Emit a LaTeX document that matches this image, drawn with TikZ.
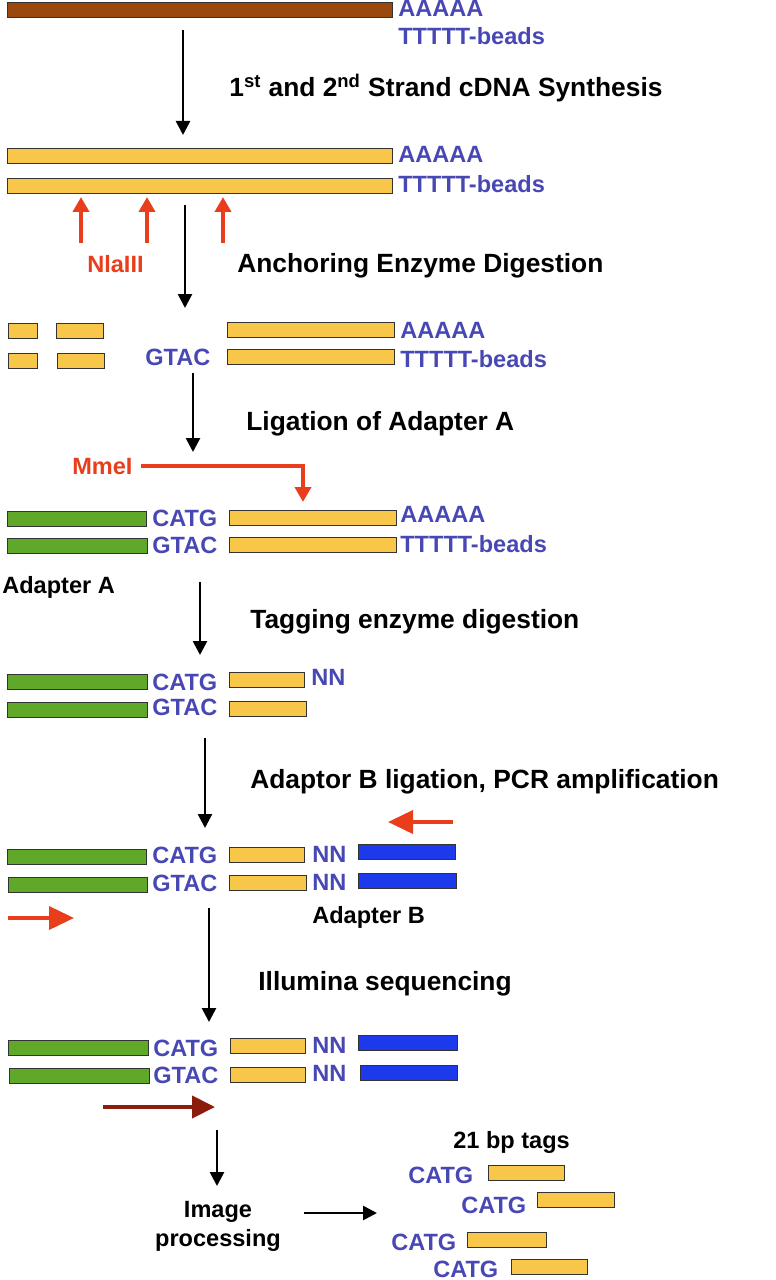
\documentclass[tikz,border=0pt]{standalone}
\usepackage{fontspec}
\setmainfont{Liberation Sans}
\usepackage{tikz}
\usetikzlibrary{arrows.meta,positioning,calc}
\definecolor{lblue}{RGB}{72,72,180}
\definecolor{enzred}{RGB}{232,62,28}
\definecolor{brownbar}{RGB}{155,72,14}
\definecolor{ybar}{RGB}{248,198,72}
\definecolor{gbar}{RGB}{96,168,42}
\definecolor{bbar}{RGB}{28,58,236}
\definecolor{darkred}{RGB}{140,28,12}

\begin{document}
\begin{tikzpicture}[x=0.02cm,y=-0.02cm,
  bar/.style={draw=black!80,line width=0.8pt,inner sep=0,anchor=north west,
              minimum height=0.3cm,minimum width=#1*0.02cm},
  head/.style={font=\fontsize{15}{18}\selectfont\bfseries,inner sep=0,anchor=base west},
  lbl/.style={font=\fontsize{13.4}{16.5}\selectfont\bfseries,text=lblue,inner sep=0,anchor=base west},
  note/.style={font=\fontsize{13.4}{16.5}\selectfont\bfseries,inner sep=0,anchor=base west},
  flow/.style={-{Triangle[length=0.28cm,width=0.28cm]},line width=1.5pt},
  cut/.style={-{Triangle[length=0.3cm,width=0.32cm]},enzred,line width=2.2pt},
  primer/.style={-{Triangle[length=0.5cm,width=0.46cm]},enzred,line width=2.2pt},
  readarr/.style={-{Triangle[length=0.46cm,width=0.44cm]},darkred,line width=2.4pt}]
\useasboundingbox (0,0) rectangle (775,1280);

% mRNA
\node[bar=385,fill=brownbar] (m1) at (7,2) {};
\node[lbl] (m1a) at (398,17) {AAAAA};
\node[lbl] (m1t) at (398,45) {TTTTT-beads};
\node[head] (h1) at (229,97) {1\textsuperscript{st} and 2\textsuperscript{nd} Strand cDNA Synthesis};

% cDNA
\node[bar=385,fill=ybar] (c1) at (7,148) {};
\node[bar=385,fill=ybar] (c2) at (7,178) {};
\node[lbl] (c1a) at (398,163) {AAAAA};
\node[lbl] (c2t) at (398,193) {TTTTT-beads};
\foreach \i/\x in {1/81,2/147,3/223}{
  \coordinate (n\i a) at (\x,243); \coordinate (n\i b) at (\x,197);
  \draw[cut] (n\i a) -- (n\i b);}
\node[note,text=enzred] (nla) at (87,273) {NlaIII};
\node[head] (h2) at (237,273) {Anchoring Enzyme Digestion};

% digested
\node[bar=29,fill=ybar] (d1) at (8,323) {};
\node[bar=47,fill=ybar] (d2) at (56,323) {};
\node[bar=29,fill=ybar] (d3) at (8,353) {};
\node[bar=47,fill=ybar] (d4) at (57,353) {};
\node[bar=167,fill=ybar] (d5) at (227,322) {};
\node[bar=167,fill=ybar] (d6) at (227,349) {};
\node[lbl] (d0g) at (145,365) {GTAC};
\node[lbl] (d5a) at (400,338) {AAAAA};
\node[lbl] (d6t) at (400,367) {TTTTT-beads};
\node[head] (h3) at (246,430) {Ligation of Adapter A};

% adapter A
\node[note,text=enzred] (mme) at (72,474) {MmeI};
\coordinate (mcut) at (303,502);
\draw[cut] ([xshift=0.16cm]mme.east) -| (mcut);
\node[bar=139,fill=gbar] (a1) at (7,511) {};
\node[bar=140,fill=gbar] (a2) at (7,538) {};
\node[lbl] (a1c) at (152,526) {CATG};
\node[lbl] (a2g) at (152,553) {GTAC};
\node[bar=167,fill=ybar] (a3) at (229,510) {};
\node[bar=167,fill=ybar] (a4) at (229,537) {};
\node[lbl] (a3a) at (400,522) {AAAAA};
\node[lbl] (a4t) at (400,552) {TTTTT-beads};
\node[note] (ada) at (2,593) {Adapter A};
\node[head] (h4) at (250,628) {Tagging enzyme digestion};

% tagged
\node[bar=140,fill=gbar] (t1) at (7,674) {};
\node[bar=140,fill=gbar] (t2) at (7,702) {};
\node[lbl] (t1c) at (152,690) {CATG};
\node[lbl] (t2g) at (152,715) {GTAC};
\node[bar=75,fill=ybar] (t3) at (229,672) {};
\node[bar=77,fill=ybar] (t4) at (229,701) {};
\node[lbl] (t3n) at (311,685) {NN};
\node[head] (h5) at (250,788) {Adaptor B ligation, PCR amplification};

% adapter B
\coordinate (pr1a) at (453,822); \coordinate (pr1b) at (388,822);
\draw[primer] (pr1a) -- (pr1b);
\node[bar=139,fill=gbar] (b1) at (7,849) {};
\node[bar=139,fill=gbar] (b2) at (8,877) {};
\node[lbl] (b1c) at (152,863) {CATG};
\node[lbl] (b2g) at (152,891) {GTAC};
\node[bar=75,fill=ybar] (b3) at (229,847) {};
\node[bar=77,fill=ybar] (b4) at (229,875) {};
\node[lbl] (b3n) at (312,862) {NN};
\node[lbl] (b4n) at (312,890) {NN};
\node[bar=97,fill=bbar] (b5) at (358,844) {};
\node[bar=98,fill=bbar] (b6) at (358,873) {};
\coordinate (pr2a) at (8,918); \coordinate (pr2b) at (74,918);
\draw[primer] (pr2a) -- (pr2b);
\node[note] (adb) at (312,923) {Adapter B};
\node[head] (h6) at (258,990) {Illumina sequencing};

% sequencing
\node[bar=140,fill=gbar] (s1) at (8,1040) {};
\node[bar=140,fill=gbar] (s2) at (9,1068) {};
\node[lbl] (s1c) at (153,1056) {CATG};
\node[lbl] (s2g) at (153,1083) {GTAC};
\node[bar=75,fill=ybar] (s3) at (230,1038) {};
\node[bar=75,fill=ybar] (s4) at (230,1067) {};
\node[lbl] (s3n) at (312,1053) {NN};
\node[lbl] (s4n) at (312,1081) {NN};
\node[bar=99,fill=bbar] (s5) at (358,1035) {};
\node[bar=97,fill=bbar] (s6) at (360,1065) {};
\coordinate (rd1) at (103,1107); \coordinate (rd2) at (215,1107);
\draw[readarr] (rd1) -- (rd2);

% tags
\node[font=\fontsize{13.4}{16.5}\selectfont\bfseries,align=center,inner sep=0] (img) at (218,1226) {Image\\processing};
\coordinate (ip1) at (304,1213); \coordinate (ip2) at (377,1213);
\draw[flow] (ip1) -- (ip2);
\node[note] (tg) at (453,1148) {21 bp tags};
\node[bar=76,fill=ybar] (g1) at (488,1165) {};
\node[bar=77,fill=ybar] (g2) at (537,1192) {};
\node[bar=79,fill=ybar] (g3) at (467,1232) {};
\node[bar=76,fill=ybar] (g4) at (511,1259) {};
\node[lbl] (g1c) at (408,1183) {CATG};
\node[lbl] (g2c) at (461,1213) {CATG};
\node[lbl] (g3c) at (391,1250) {CATG};
\node[lbl] (g4c) at (433,1277) {CATG};

% step arrows
\foreach \i/\x/\ya/\yb in {1/183/30/135,2/185/205/308,3/193/373/452,4/200/582/655,
                          5/205/738/828,6/209/908/1022,7/217/1130/1186}{
  \coordinate (f\i a) at (\x,\ya); \coordinate (f\i b) at (\x,\yb);
  \draw[flow] (f\i a) -- (f\i b);}
\end{tikzpicture}
\end{document}
